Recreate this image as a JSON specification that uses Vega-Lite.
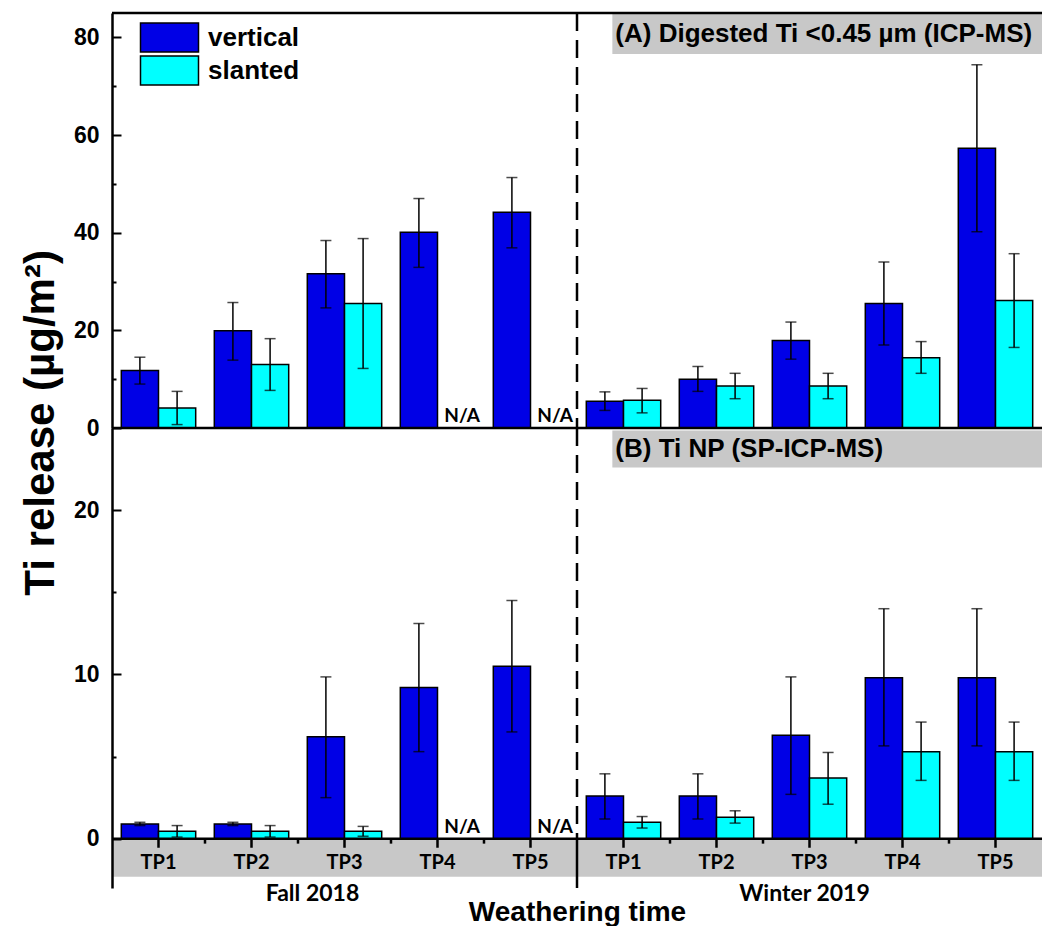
{
  "$schema": "https://vega.github.io/schema/vega-lite/v6.json",
  "padding": {"left": 20, "top": 11, "right": 0, "bottom": 0},
  "title": {"text": "Ti release (µg/m²)", "orient": "left", "anchor": "middle", "font": "Liberation Sans", "fontSize": 42, "fontWeight": "bold", "color": "black", "offset": 10, "dx": 46},
  "spacing": 0,
  "bounds": "flush",
  "resolve": {"legend": {"color": "independent"}},
  "config": {
    "view": {"stroke": null},
    "axis": {"domainColor": "black", "domainWidth": 2.5, "tickColor": "black", "tickWidth": 2, "labelColor": "black", "labelFont": "Liberation Sans", "labelFontWeight": "bold", "labelFontSize": 23, "grid": false}
  },
  "datasets": {
    "A": [
      {"group": "F-TP1", "tp": "TP1", "season": "Fall 2018", "series": "vertical", "v": 11.8, "lo": 9.0, "hi": 14.5},
      {"group": "F-TP1", "tp": "TP1", "season": "Fall 2018", "series": "slanted", "v": 4.1, "lo": 0.7, "hi": 7.5},
      {"group": "F-TP2", "tp": "TP2", "season": "Fall 2018", "series": "vertical", "v": 19.9, "lo": 13.9, "hi": 25.7},
      {"group": "F-TP2", "tp": "TP2", "season": "Fall 2018", "series": "slanted", "v": 13.0, "lo": 7.7, "hi": 18.3},
      {"group": "F-TP3", "tp": "TP3", "season": "Fall 2018", "series": "vertical", "v": 31.6, "lo": 24.6, "hi": 38.4},
      {"group": "F-TP3", "tp": "TP3", "season": "Fall 2018", "series": "slanted", "v": 25.5, "lo": 12.2, "hi": 38.8},
      {"group": "F-TP4", "tp": "TP4", "season": "Fall 2018", "series": "vertical", "v": 40.1, "lo": 32.9, "hi": 47.0},
      {"group": "F-TP4", "tp": "TP4", "season": "Fall 2018", "series": "slanted", "v": null, "lo": null, "hi": null},
      {"group": "F-TP5", "tp": "TP5", "season": "Fall 2018", "series": "vertical", "v": 44.2, "lo": 36.9, "hi": 51.3},
      {"group": "F-TP5", "tp": "TP5", "season": "Fall 2018", "series": "slanted", "v": null, "lo": null, "hi": null},
      {"group": "W-TP1", "tp": "TP1", "season": "Winter 2019", "series": "vertical", "v": 5.5, "lo": 3.6, "hi": 7.4},
      {"group": "W-TP1", "tp": "TP1", "season": "Winter 2019", "series": "slanted", "v": 5.7, "lo": 3.1, "hi": 8.1},
      {"group": "W-TP2", "tp": "TP2", "season": "Winter 2019", "series": "vertical", "v": 10.0, "lo": 7.5, "hi": 12.6},
      {"group": "W-TP2", "tp": "TP2", "season": "Winter 2019", "series": "slanted", "v": 8.6, "lo": 6.0, "hi": 11.2},
      {"group": "W-TP3", "tp": "TP3", "season": "Winter 2019", "series": "vertical", "v": 17.9, "lo": 14.1, "hi": 21.7},
      {"group": "W-TP3", "tp": "TP3", "season": "Winter 2019", "series": "slanted", "v": 8.6, "lo": 6.0, "hi": 11.2},
      {"group": "W-TP4", "tp": "TP4", "season": "Winter 2019", "series": "vertical", "v": 25.5, "lo": 17.0, "hi": 34.0},
      {"group": "W-TP4", "tp": "TP4", "season": "Winter 2019", "series": "slanted", "v": 14.4, "lo": 11.2, "hi": 17.7},
      {"group": "W-TP5", "tp": "TP5", "season": "Winter 2019", "series": "vertical", "v": 57.3, "lo": 40.2, "hi": 74.4},
      {"group": "W-TP5", "tp": "TP5", "season": "Winter 2019", "series": "slanted", "v": 26.1, "lo": 16.5, "hi": 35.7}
    ],
    "B": [
      {"group": "F-TP1", "tp": "TP1", "season": "Fall 2018", "series": "vertical", "v": 0.9, "lo": 0.8, "hi": 1.0},
      {"group": "F-TP1", "tp": "TP1", "season": "Fall 2018", "series": "slanted", "v": 0.45, "lo": 0.1, "hi": 0.8},
      {"group": "F-TP2", "tp": "TP2", "season": "Fall 2018", "series": "vertical", "v": 0.9, "lo": 0.8, "hi": 1.0},
      {"group": "F-TP2", "tp": "TP2", "season": "Fall 2018", "series": "slanted", "v": 0.45, "lo": 0.1, "hi": 0.8},
      {"group": "F-TP3", "tp": "TP3", "season": "Fall 2018", "series": "vertical", "v": 6.2, "lo": 2.5, "hi": 9.85},
      {"group": "F-TP3", "tp": "TP3", "season": "Fall 2018", "series": "slanted", "v": 0.45, "lo": 0.15, "hi": 0.75},
      {"group": "F-TP4", "tp": "TP4", "season": "Fall 2018", "series": "vertical", "v": 9.2, "lo": 5.3, "hi": 13.1},
      {"group": "F-TP4", "tp": "TP4", "season": "Fall 2018", "series": "slanted", "v": null, "lo": null, "hi": null},
      {"group": "F-TP5", "tp": "TP5", "season": "Fall 2018", "series": "vertical", "v": 10.5, "lo": 6.5, "hi": 14.5},
      {"group": "F-TP5", "tp": "TP5", "season": "Fall 2018", "series": "slanted", "v": null, "lo": null, "hi": null},
      {"group": "W-TP1", "tp": "TP1", "season": "Winter 2019", "series": "vertical", "v": 2.6, "lo": 1.2, "hi": 3.95},
      {"group": "W-TP1", "tp": "TP1", "season": "Winter 2019", "series": "slanted", "v": 1.0, "lo": 0.65, "hi": 1.35},
      {"group": "W-TP2", "tp": "TP2", "season": "Winter 2019", "series": "vertical", "v": 2.6, "lo": 1.2, "hi": 3.95},
      {"group": "W-TP2", "tp": "TP2", "season": "Winter 2019", "series": "slanted", "v": 1.3, "lo": 0.95, "hi": 1.7},
      {"group": "W-TP3", "tp": "TP3", "season": "Winter 2019", "series": "vertical", "v": 6.3, "lo": 2.7, "hi": 9.85},
      {"group": "W-TP3", "tp": "TP3", "season": "Winter 2019", "series": "slanted", "v": 3.7, "lo": 2.1, "hi": 5.25},
      {"group": "W-TP4", "tp": "TP4", "season": "Winter 2019", "series": "vertical", "v": 9.8, "lo": 5.65, "hi": 14.0},
      {"group": "W-TP4", "tp": "TP4", "season": "Winter 2019", "series": "slanted", "v": 5.3, "lo": 3.55, "hi": 7.1},
      {"group": "W-TP5", "tp": "TP5", "season": "Winter 2019", "series": "vertical", "v": 9.8, "lo": 5.65, "hi": 14.0},
      {"group": "W-TP5", "tp": "TP5", "season": "Winter 2019", "series": "slanted", "v": 5.3, "lo": 3.55, "hi": 7.1}
    ]
  },
  "vconcat": [
    {
      "width": 930,
      "height": 415,
      "data": {"name": "A"},
      "resolve": {"axis": {"x": "independent", "y": "independent"}},
      "layer": [
        {
          "data": {"values": [{}]},
          "mark": {"type": "rect", "color": "#c8c8c8"},
          "encoding": {
            "x": {"datum": "W-TP1", "type": "nominal", "bandPosition": 0.35, "axis": null, "scale": {"paddingInner": 0.2, "paddingOuter": 0.1}},
            "x2": {"datum": "W-TP5", "bandPosition": 1.125},
            "y": {"datum": 85, "type": "quantitative", "axis": null, "scale": {"domain": [0, 85], "nice": false}},
            "y2": {"datum": 76.6}
          }
        },
        {
          "data": {"values": [{}]},
          "mark": {"type": "text", "text": "(A) Digested Ti <0.45 µm (ICP-MS)", "align": "left", "baseline": "middle", "dx": 3, "font": "Liberation Sans", "fontWeight": "bold", "fontSize": 26, "color": "black"},
          "encoding": {
            "x": {"datum": "W-TP1", "type": "nominal", "bandPosition": 0.35, "axis": null},
            "y": {"datum": 80.7, "type": "quantitative", "axis": null}
          }
        },
        {
          "data": {"values": [{}]},
          "mark": {"type": "rule", "color": "black", "strokeWidth": 2.5, "strokeDash": [18, 9]},
          "encoding": {
            "x": {"datum": "F-TP5", "type": "nominal", "bandPosition": 1.125, "axis": null},
            "y": {"datum": 85, "type": "quantitative", "axis": null},
            "y2": {"datum": 0}
          }
        },
        {
          "mark": {"type": "bar", "stroke": "black", "strokeWidth": 1.5},
          "encoding": {
            "x": {"field": "group", "type": "nominal", "axis": null},
            "xOffset": {"field": "series", "type": "nominal", "sort": ["vertical", "slanted"]},
            "y": {"field": "v", "type": "quantitative", "axis": {"orient": "left", "title": null, "values": [0, 10, 20, 30, 40, 50, 60, 70, 80], "labelExpr": "datum.value % 20 === 0 ? datum.label : ''", "tickSize": {"condition": {"test": "datum.value % 20 === 0", "value": -9}, "value": -4}, "labelPadding": 22, "zindex": 1}},
            "color": {"field": "series", "type": "nominal", "sort": ["vertical", "slanted"], "scale": {"domain": ["vertical", "slanted"], "range": ["#0000e6", "#00ffff"]}, "legend": {"orient": "none", "legendX": 42, "legendY": 9, "title": null, "symbolType": "M-2,-1L2,-1L2,1L-2,1Z", "symbolSize": 841, "symbolStrokeColor": "black", "symbolStrokeWidth": 1.5, "symbolOpacity": 1, "labelFont": "Liberation Sans", "labelFontWeight": "bold", "labelFontSize": 26, "labelColor": "black", "labelOffset": 23, "rowPadding": -4, "padding": 0}}
          }
        },
        {
          "mark": {"type": "rule", "color": "black", "strokeWidth": 1.5},
          "encoding": {
            "x": {"field": "group", "type": "nominal", "axis": null},
            "xOffset": {"field": "series", "type": "nominal", "sort": ["vertical", "slanted"]},
            "y": {"field": "lo", "type": "quantitative", "axis": null},
            "y2": {"field": "hi"}
          }
        },
        {
          "mark": {"type": "tick", "color": "black", "size": 11, "thickness": 1.5, "orient": "horizontal"},
          "encoding": {
            "x": {"field": "group", "type": "nominal", "axis": null},
            "xOffset": {"field": "series", "type": "nominal", "sort": ["vertical", "slanted"]},
            "y": {"field": "hi", "type": "quantitative", "axis": null}
          }
        },
        {
          "mark": {"type": "tick", "color": "black", "size": 11, "thickness": 1.5, "orient": "horizontal"},
          "encoding": {
            "x": {"field": "group", "type": "nominal", "axis": null},
            "xOffset": {"field": "series", "type": "nominal", "sort": ["vertical", "slanted"]},
            "y": {"field": "lo", "type": "quantitative", "axis": null}
          }
        },
        {
          "transform": [{"filter": "datum.v === null"}],
          "mark": {"type": "text", "text": "N/A", "baseline": "bottom", "dy": -2, "dx": 6, "font": "Lato", "fontWeight": "bold", "fontSize": 19, "color": "black"},
          "encoding": {
            "x": {"field": "group", "type": "nominal", "axis": null},
            "xOffset": {"field": "series", "type": "nominal", "sort": ["vertical", "slanted"]},
            "y": {"datum": 0, "type": "quantitative", "axis": null}
          }
        },
        {
          "data": {"values": [{}]},
          "mark": {"type": "rule", "color": "black", "strokeWidth": 2.5},
          "encoding": {"y": {"datum": 85, "type": "quantitative", "axis": null}}
        },
        {
          "data": {"values": [{}]},
          "mark": {"type": "rule", "color": "black", "strokeWidth": 2.5},
          "encoding": {"y": {"datum": 0, "type": "quantitative", "axis": null}}
        }
      ]
    },
    {
      "width": 930,
      "height": 460,
      "data": {"name": "B"},
      "resolve": {"axis": {"x": "independent", "y": "independent"}},
      "layer": [
        {
          "data": {"values": [{}]},
          "mark": {"type": "rect", "color": "#c8c8c8"},
          "encoding": {
            "x": {"datum": "F-TP1", "type": "nominal", "bandPosition": -0.125, "axis": null, "scale": {"paddingInner": 0.2, "paddingOuter": 0.1}},
            "x2": {"datum": "W-TP5", "bandPosition": 1.125},
            "y": {"datum": 0, "type": "quantitative", "axis": null, "scale": {"domain": [-3, 25], "nice": false}},
            "y2": {"datum": -2.31}
          }
        },
        {
          "data": {"values": [{}]},
          "mark": {"type": "rect", "color": "#c8c8c8"},
          "encoding": {
            "x": {"datum": "W-TP1", "type": "nominal", "bandPosition": 0.35, "axis": null},
            "x2": {"datum": "W-TP5", "bandPosition": 1.125},
            "y": {"datum": 24.85, "type": "quantitative", "axis": null},
            "y2": {"datum": 22.6}
          }
        },
        {
          "data": {"values": [{}]},
          "mark": {"type": "text", "text": "(B) Ti NP (SP-ICP-MS)", "align": "left", "baseline": "middle", "dx": 3, "font": "Liberation Sans", "fontWeight": "bold", "fontSize": 26, "color": "black"},
          "encoding": {
            "x": {"datum": "W-TP1", "type": "nominal", "bandPosition": 0.35, "axis": null},
            "y": {"datum": 23.7, "type": "quantitative", "axis": null}
          }
        },
        {
          "data": {"values": [{}]},
          "mark": {"type": "rule", "color": "black", "strokeWidth": 2.5, "strokeDash": [18, 9]},
          "encoding": {
            "x": {"datum": "F-TP5", "type": "nominal", "bandPosition": 1.125, "axis": null},
            "y": {"datum": 25, "type": "quantitative", "axis": null},
            "y2": {"datum": 0}
          }
        },
        {
          "data": {"values": [{}]},
          "mark": {"type": "rule", "color": "black", "strokeWidth": 2.5},
          "encoding": {
            "x": {"datum": "F-TP5", "type": "nominal", "bandPosition": 1.125, "axis": null},
            "y": {"datum": 0, "type": "quantitative", "axis": null},
            "y2": {"datum": -3}
          }
        },
        {
          "mark": {"type": "bar", "stroke": "black", "strokeWidth": 1.5},
          "encoding": {
            "x": {"field": "group", "type": "nominal", "axis": {"orient": "bottom", "title": "Weathering time", "labels": false, "ticks": false, "domain": false, "titleFont": "Liberation Sans", "titleFontWeight": "bold", "titleFontSize": 28, "titleColor": "black", "titlePadding": 10}},
            "xOffset": {"field": "series", "type": "nominal", "sort": ["vertical", "slanted"]},
            "y": {"field": "v", "type": "quantitative", "axis": {"orient": "left", "title": null, "values": [0, 5, 10, 15, 20], "labelExpr": "datum.value % 10 === 0 ? datum.label : ''", "tickSize": {"condition": {"test": "datum.value % 10 === 0", "value": -9}, "value": -4}, "labelPadding": 22, "zindex": 1}},
            "color": {"field": "series", "type": "nominal", "sort": ["vertical", "slanted"], "legend": null}
          }
        },
        {
          "mark": {"type": "rule", "color": "black", "strokeWidth": 1.5},
          "encoding": {
            "x": {"field": "group", "type": "nominal", "axis": null},
            "xOffset": {"field": "series", "type": "nominal", "sort": ["vertical", "slanted"]},
            "y": {"field": "lo", "type": "quantitative", "axis": null},
            "y2": {"field": "hi"}
          }
        },
        {
          "mark": {"type": "tick", "color": "black", "size": 11, "thickness": 1.5, "orient": "horizontal"},
          "encoding": {
            "x": {"field": "group", "type": "nominal", "axis": null},
            "xOffset": {"field": "series", "type": "nominal", "sort": ["vertical", "slanted"]},
            "y": {"field": "hi", "type": "quantitative", "axis": null}
          }
        },
        {
          "mark": {"type": "tick", "color": "black", "size": 11, "thickness": 1.5, "orient": "horizontal"},
          "encoding": {
            "x": {"field": "group", "type": "nominal", "axis": null},
            "xOffset": {"field": "series", "type": "nominal", "sort": ["vertical", "slanted"]},
            "y": {"field": "lo", "type": "quantitative", "axis": null}
          }
        },
        {
          "transform": [{"filter": "datum.v === null"}],
          "mark": {"type": "text", "text": "N/A", "baseline": "bottom", "dy": -2, "dx": 6, "font": "Lato", "fontWeight": "bold", "fontSize": 19, "color": "black"},
          "encoding": {
            "x": {"field": "group", "type": "nominal", "axis": null},
            "xOffset": {"field": "series", "type": "nominal", "sort": ["vertical", "slanted"]},
            "y": {"datum": 0, "type": "quantitative", "axis": null}
          }
        },
        {
          "data": {"values": [{}]},
          "mark": {"type": "rule", "color": "black", "strokeWidth": 2.5},
          "encoding": {"y": {"datum": 0, "type": "quantitative", "axis": null}}
        },
        {
          "transform": [{"filter": "datum.series === 'vertical'"}],
          "mark": {"type": "rule", "color": "black", "strokeWidth": 2.5},
          "encoding": {
            "x": {"field": "group", "type": "nominal", "bandPosition": 0.5, "axis": null},
            "y": {"datum": 0, "type": "quantitative", "axis": null},
            "y2": {"datum": -0.55}
          }
        },
        {
          "transform": [{"filter": "datum.series === 'vertical' && datum.group !== 'F-TP5' && datum.group !== 'W-TP5'"}],
          "mark": {"type": "rule", "color": "black", "strokeWidth": 2.5},
          "encoding": {
            "x": {"field": "group", "type": "nominal", "bandPosition": 1.125, "axis": null},
            "y": {"datum": 0, "type": "quantitative", "axis": null},
            "y2": {"datum": -0.3}
          }
        },
        {
          "transform": [{"filter": "datum.series === 'vertical'"}],
          "mark": {"type": "text", "baseline": "middle", "font": "Lato", "fontWeight": "bold", "fontSize": 20, "color": "black"},
          "encoding": {
            "x": {"field": "group", "type": "nominal", "bandPosition": 0.5, "axis": null},
            "y": {"datum": -1.45, "type": "quantitative", "axis": null},
            "text": {"field": "tp"}
          }
        },
        {
          "transform": [{"filter": "datum.series === 'vertical' && datum.group === 'F-TP3'"}],
          "mark": {"type": "text", "baseline": "middle", "dx": -32, "font": "Lato", "fontWeight": "bold", "fontSize": 23, "color": "black"},
          "encoding": {
            "x": {"field": "group", "type": "nominal", "bandPosition": 0.5, "axis": null},
            "y": {"datum": -3.35, "type": "quantitative", "axis": null},
            "text": {"field": "season"}
          }
        },
        {
          "transform": [{"filter": "datum.series === 'vertical' && datum.group === 'W-TP3'"}],
          "mark": {"type": "text", "baseline": "middle", "dx": -5, "font": "Lato", "fontWeight": "bold", "fontSize": 23, "color": "black"},
          "encoding": {
            "x": {"field": "group", "type": "nominal", "bandPosition": 0.5, "axis": null},
            "y": {"datum": -3.35, "type": "quantitative", "axis": null},
            "text": {"field": "season"}
          }
        }
      ]
    }
  ]
}
